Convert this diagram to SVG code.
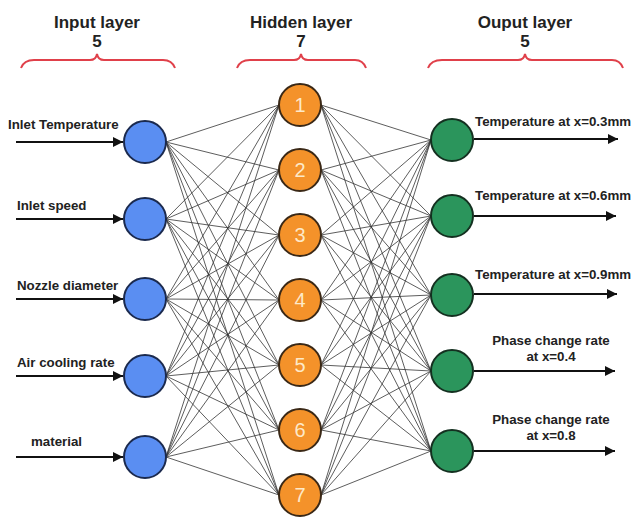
<svg xmlns="http://www.w3.org/2000/svg" width="638" height="519" viewBox="0 0 638 519">
<defs>
<marker id="arr" viewBox="0 0 10 10" refX="10" refY="5" markerWidth="11" markerHeight="10" markerUnits="userSpaceOnUse" orient="auto">
<path d="M0,0 L10,5 L0,10 Z" fill="#111"/>
</marker>
<style>
.t{font-family:"Liberation Sans",Arial,sans-serif;font-weight:bold;fill:#222}
.title{font-size:17px;text-anchor:middle}
.lbl{font-size:13.3px}
.c{stroke:#333;stroke-width:0.8;fill:none}
.io{stroke:#111;stroke-width:1.8;fill:none;marker-end:url(#arr)}
.brace{stroke:#e0404a;stroke-width:2;fill:none}
.in{fill:#5a8ef2;stroke:#1b2a4e;stroke-width:2}
.hid{fill:#f4922a;stroke:#3a2816;stroke-width:2}
.out{fill:#2b955c;stroke:#143020;stroke-width:2}
.num{font-family:"Liberation Sans",Arial,sans-serif;font-size:20px;fill:#fde9c8;text-anchor:middle}
</style>
</defs>
<rect width="638" height="519" fill="#fff"/>

<g id="titles">
<text class="t title" x="97" y="28">Input layer</text>
<text class="t title" x="97" y="47">5</text>
<text class="t title" x="301" y="28">Hidden layer</text>
<text class="t title" x="301" y="47">7</text>
<text class="t title" x="525" y="28">Ouput layer</text>
<text class="t title" x="525" y="47">5</text>
<path class="brace" d="M21,68 Q24,60 34,60 L90,60 Q96,60 97,54 Q98,60 104,60 L163,60 Q172,60 175,68"/>
<path class="brace" d="M237,68 Q240,60 250,60 L294,60 Q300,60 301,54 Q302,60 308,60 L355,60 Q363,60 366,68"/>
<path class="brace" d="M428,68 Q431,60 442,60 L518,60 Q524,60 525,54 Q526,60 532,60 L612,60 Q620,60 623,68"/>
</g>

<g id="connectors">
<g id="in-hid">
<path class="c" d="M166,142L279,105M166,142L279,170M166,142L279,235M166,142L279,300M166,142L279,365M166,142L279,430M166,142L279,495"/>
<path class="c" d="M166,219L279,105M166,219L279,170M166,219L279,235M166,219L279,300M166,219L279,365M166,219L279,430M166,219L279,495"/>
<path class="c" d="M166,299L279,105M166,299L279,170M166,299L279,235M166,299L279,300M166,299L279,365M166,299L279,430M166,299L279,495"/>
<path class="c" d="M166,376L279,105M166,376L279,170M166,376L279,235M166,376L279,300M166,376L279,365M166,376L279,430M166,376L279,495"/>
<path class="c" d="M166,457L279,105M166,457L279,170M166,457L279,235M166,457L279,300M166,457L279,365M166,457L279,430M166,457L279,495"/>
</g>
<g id="hid-out">
<path class="c" d="M321,105L431,140M321,105L431,216M321,105L431,295M321,105L431,371M321,105L431,451"/>
<path class="c" d="M321,170L431,140M321,170L431,216M321,170L431,295M321,170L431,371M321,170L431,451"/>
<path class="c" d="M321,235L431,140M321,235L431,216M321,235L431,295M321,235L431,371M321,235L431,451"/>
<path class="c" d="M321,300L431,140M321,300L431,216M321,300L431,295M321,300L431,371M321,300L431,451"/>
<path class="c" d="M321,365L431,140M321,365L431,216M321,365L431,295M321,365L431,371M321,365L431,451"/>
<path class="c" d="M321,430L431,140M321,430L431,216M321,430L431,295M321,430L431,371M321,430L431,451"/>
<path class="c" d="M321,495L431,140M321,495L431,216M321,495L431,295M321,495L431,371M321,495L431,451"/>
</g>
<g id="inputs-arrows">
<line class="io" x1="16" y1="142" x2="123" y2="142"/>
<line class="io" x1="16" y1="219" x2="123" y2="219"/>
<line class="io" x1="16" y1="299" x2="123" y2="299"/>
<line class="io" x1="16" y1="376" x2="123" y2="376"/>
<line class="io" x1="16" y1="457" x2="123" y2="457"/>
</g>
<g id="outputs-arrows">
<line class="io" x1="474" y1="139" x2="618" y2="139"/>
<line class="io" x1="474" y1="216" x2="616" y2="216"/>
<line class="io" x1="474" y1="294" x2="617" y2="294"/>
<line class="io" x1="474" y1="371" x2="615" y2="371"/>
<line class="io" x1="474" y1="451" x2="615" y2="451"/>
</g>
</g>

<g id="in1"><circle class="in" cx="145" cy="142" r="21"/><text class="t lbl" x="8" y="129">Inlet Temperature</text></g>
<g id="in2"><circle class="in" cx="145" cy="219" r="21"/><text class="t lbl" x="17" y="210">Inlet speed</text></g>
<g id="in3"><circle class="in" cx="145" cy="299" r="21"/><text class="t lbl" x="17" y="290">Nozzle diameter</text></g>
<g id="in4"><circle class="in" cx="145" cy="376" r="21"/><text class="t lbl" x="17" y="367">Air cooling rate</text></g>
<g id="in5"><circle class="in" cx="145" cy="457" r="21"/><text class="t lbl" x="31" y="446">material</text></g>

<g id="h1"><circle class="hid" cx="300" cy="105" r="21"/><text class="num" x="300" y="112">1</text></g>
<g id="h2"><circle class="hid" cx="300" cy="170" r="21"/><text class="num" x="300" y="177">2</text></g>
<g id="h3"><circle class="hid" cx="300" cy="235" r="21"/><text class="num" x="300" y="242">3</text></g>
<g id="h4"><circle class="hid" cx="300" cy="300" r="21"/><text class="num" x="300" y="307">4</text></g>
<g id="h5"><circle class="hid" cx="300" cy="365" r="21"/><text class="num" x="300" y="372">5</text></g>
<g id="h6"><circle class="hid" cx="300" cy="430" r="21"/><text class="num" x="300" y="437">6</text></g>
<g id="h7"><circle class="hid" cx="300" cy="495" r="21"/><text class="num" x="300" y="502">7</text></g>

<g id="o1"><circle class="out" cx="452" cy="140" r="21"/><text class="t lbl" x="475" y="126">Temperature at x=0.3mm</text></g>
<g id="o2"><circle class="out" cx="452" cy="216" r="21"/><text class="t lbl" x="475" y="200">Temperature at x=0.6mm</text></g>
<g id="o3"><circle class="out" cx="452" cy="295" r="21"/><text class="t lbl" x="475" y="279">Temperature at x=0.9mm</text></g>
<g id="o4"><circle class="out" cx="452" cy="371" r="21"/><text class="t lbl" x="551" y="345" text-anchor="middle">Phase change rate</text><text class="t lbl" x="551" y="361" text-anchor="middle">at x=0.4</text></g>
<g id="o5"><circle class="out" cx="452" cy="451" r="21"/><text class="t lbl" x="551" y="424" text-anchor="middle">Phase change rate</text><text class="t lbl" x="551" y="440" text-anchor="middle">at x=0.8</text></g>
</svg>
